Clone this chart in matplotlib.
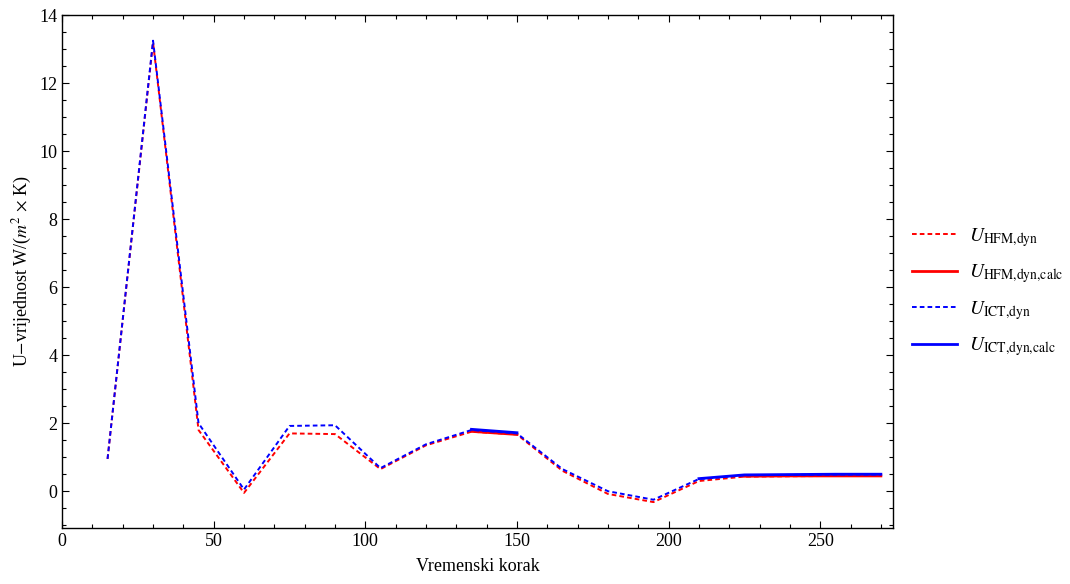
import numpy as np
import matplotlib.pyplot as plt
from matplotlib.ticker import MultipleLocator

plt.rcParams['font.family'] = ['Liberation Serif', 'DejaVu Serif']
plt.rcParams['mathtext.fontset'] = 'stix'

# time steps
steps = [15, 30, 45, 60, 75, 90, 105, 120, 135, 150, 165, 180, 195,
         210, 225, 240, 255, 270]

u_hfm_dyn = [0.95, 13.2, 1.8, -0.05, 1.7, 1.68, 0.65, 1.35, 1.75, 1.67,
             0.6, -0.08, -0.32, 0.3, 0.43, 0.44, 0.45, 0.45]
u_ict_dyn = [0.95, 13.25, 2.0, 0.05, 1.92, 1.94, 0.68, 1.38, 1.8, 1.7,
             0.65, 0.0, -0.25, 0.36, 0.47, 0.48, 0.49, 0.49]

# calc series only exist for a few steps
hfm_calc_steps = [[135, 150], [225, 240, 255, 270]]
hfm_calc_vals = [[1.76, 1.67], [0.44, 0.45, 0.45, 0.45]]
ict_calc_steps = [[135, 150], [210, 225, 240, 255, 270]]
ict_calc_vals = [[1.82, 1.72], [0.37, 0.48, 0.49, 0.5, 0.5]]

fig = plt.figure(figsize=(10.7, 5.84), dpi=100)
ax = fig.add_axes([0.058, 0.096, 0.7766, 0.878])

dash = (0, (2.4, 1.6))
ax.plot(steps, u_hfm_dyn, color='red', ls=dash, lw=1.4,
        label=r'$U_{\mathrm{HFM{,}dyn}}$')
for i, (xs, ys) in enumerate(zip(hfm_calc_steps, hfm_calc_vals)):
    ax.plot(xs, ys, color='red', lw=2.0,
            label=r'$U_{\mathrm{HFM{,}dyn{,}calc}}$' if i == 0 else None)
ax.plot(steps, u_ict_dyn, color='blue', ls=dash, lw=1.4,
        label=r'$U_{\mathrm{ICT{,}dyn}}$')
for i, (xs, ys) in enumerate(zip(ict_calc_steps, ict_calc_vals)):
    ax.plot(xs, ys, color='blue', lw=2.0,
            label=r'$U_{\mathrm{ICT{,}dyn{,}calc}}$' if i == 0 else None)

ax.set_xlim(0, 274)
ax.set_ylim(-1.08, 14)
ax.xaxis.set_major_locator(MultipleLocator(50))
ax.xaxis.set_minor_locator(MultipleLocator(10))
ax.yaxis.set_major_locator(MultipleLocator(2))
ax.yaxis.set_minor_locator(MultipleLocator(0.5))
ax.tick_params(which='both', direction='in', top=True, right=True,
               labelsize=13, width=0.8)
ax.tick_params(which='major', length=5)
ax.tick_params(which='minor', length=3)
for s in ax.spines.values():
    s.set_linewidth(1.0)

ax.set_xlabel('Vremenski korak', fontsize=13, labelpad=6)
ax.set_ylabel(r'U$-$vrijednost W/($m^2$ $\times$ K)', fontsize=13)

ax.legend(loc='center left', bbox_to_anchor=(1.0, 0.46), frameon=False,
          fontsize=14, handlelength=2.3, handletextpad=0.6,
          labelspacing=0.7, borderaxespad=0.6)

fig.savefig('out.png', dpi=100)
